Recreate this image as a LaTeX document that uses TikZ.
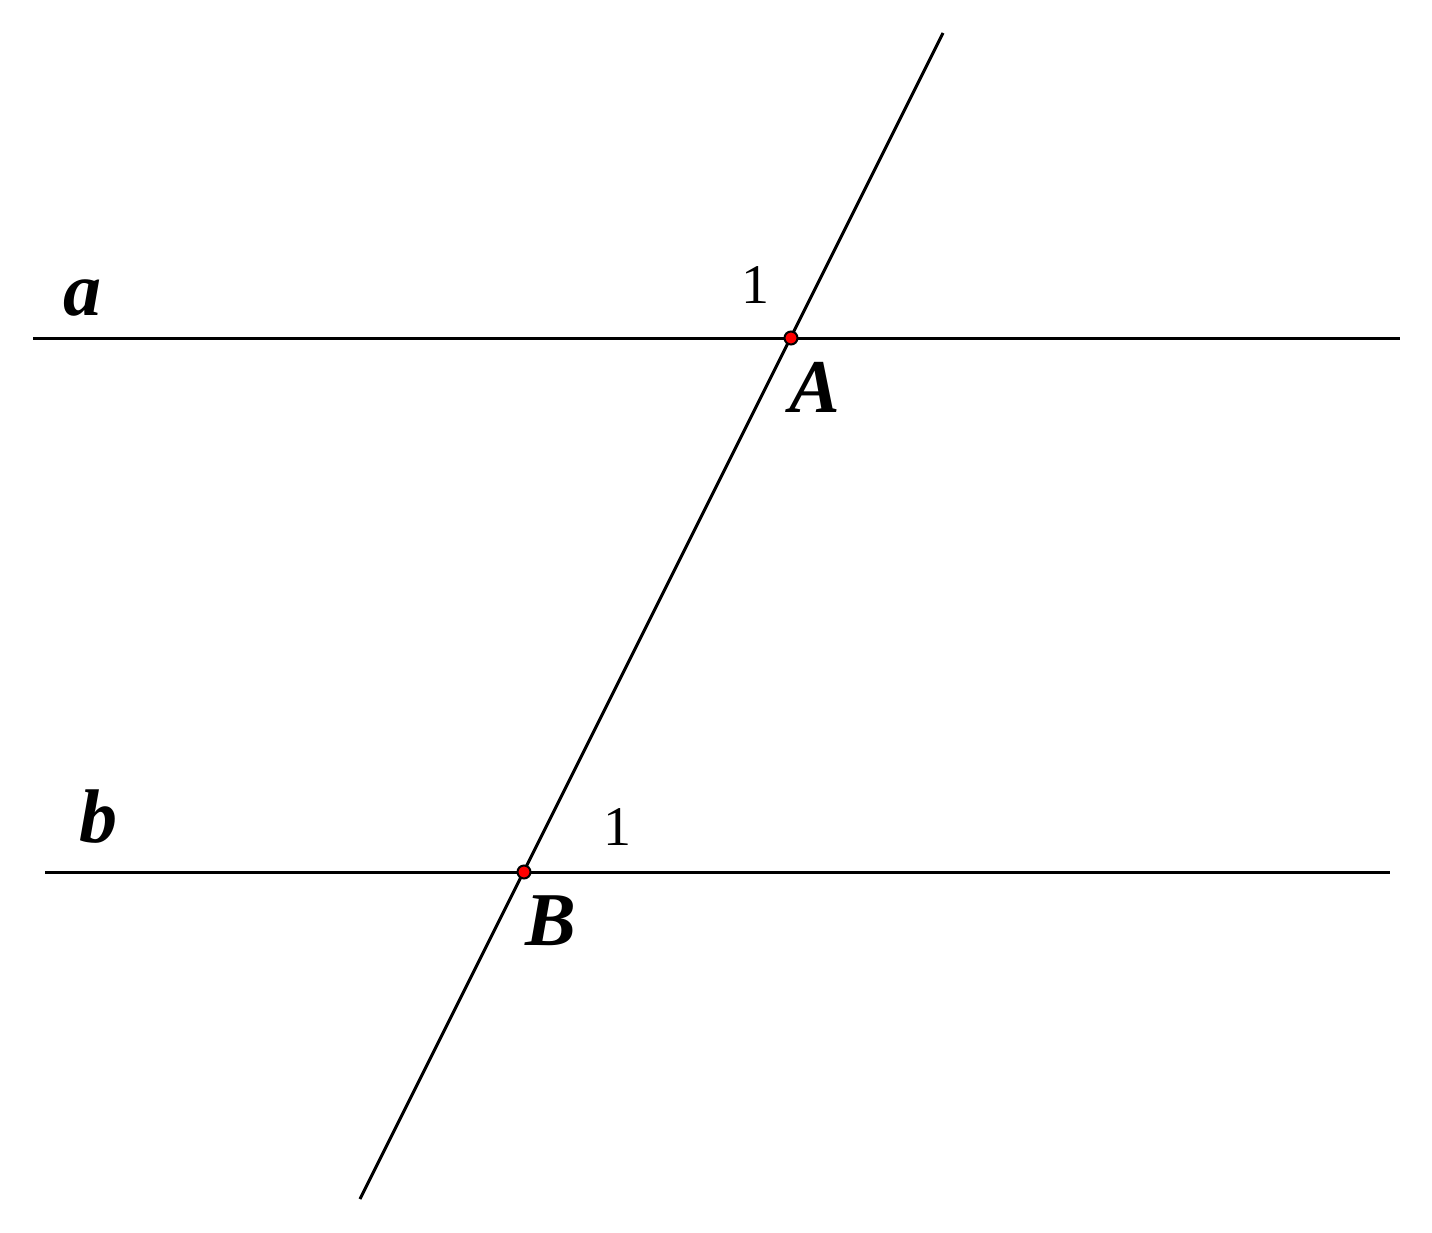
\documentclass[tikz,border=0pt]{standalone}
\usepackage{fontspec}
\setmainfont{Liberation Serif}
\begin{document}
\begin{tikzpicture}[x=1pt,y=-1pt,
  ln/.style={line width=3pt,black},
  pt/.style={circle,draw=black,fill=red,line width=2pt,inner sep=0pt,minimum size=13pt},
  lbl/.style={anchor=base,inner sep=0pt,font=\fontsize{76}{80}\selectfont\bfseries\itshape},
  num/.style={anchor=base,inner sep=0pt,font=\fontsize{56}{60}\selectfont}]
\useasboundingbox (0,0) rectangle (1432,1232);
\coordinate (a1) at (33,338);
\coordinate (a2) at (1400,338);
\coordinate (b1) at (45,872);
\coordinate (b2) at (1390,872);
\coordinate (t1) at (943,33);
\coordinate (t2) at (360,1199);
\coordinate (A) at (791,338);
\coordinate (B) at (524,872);
\draw[ln] (a1) -- (a2);
\draw[ln] (b1) -- (b2);
\draw[ln] (t1) -- (t2);
\node[pt] (Ap) at (A) {};
\node[pt] (Bp) at (B) {};
\node[lbl] (la) at (82,315) {a};
\node[lbl] (lb) at (98,842) {b};
\node[lbl] (lA) at (815,412) {A};
\node[lbl] (lB) at (551,945) {B};
\node[num] (n1) at (755,303) {1};
\node[num] (n2) at (617,845) {1};
\end{tikzpicture}
\end{document}
